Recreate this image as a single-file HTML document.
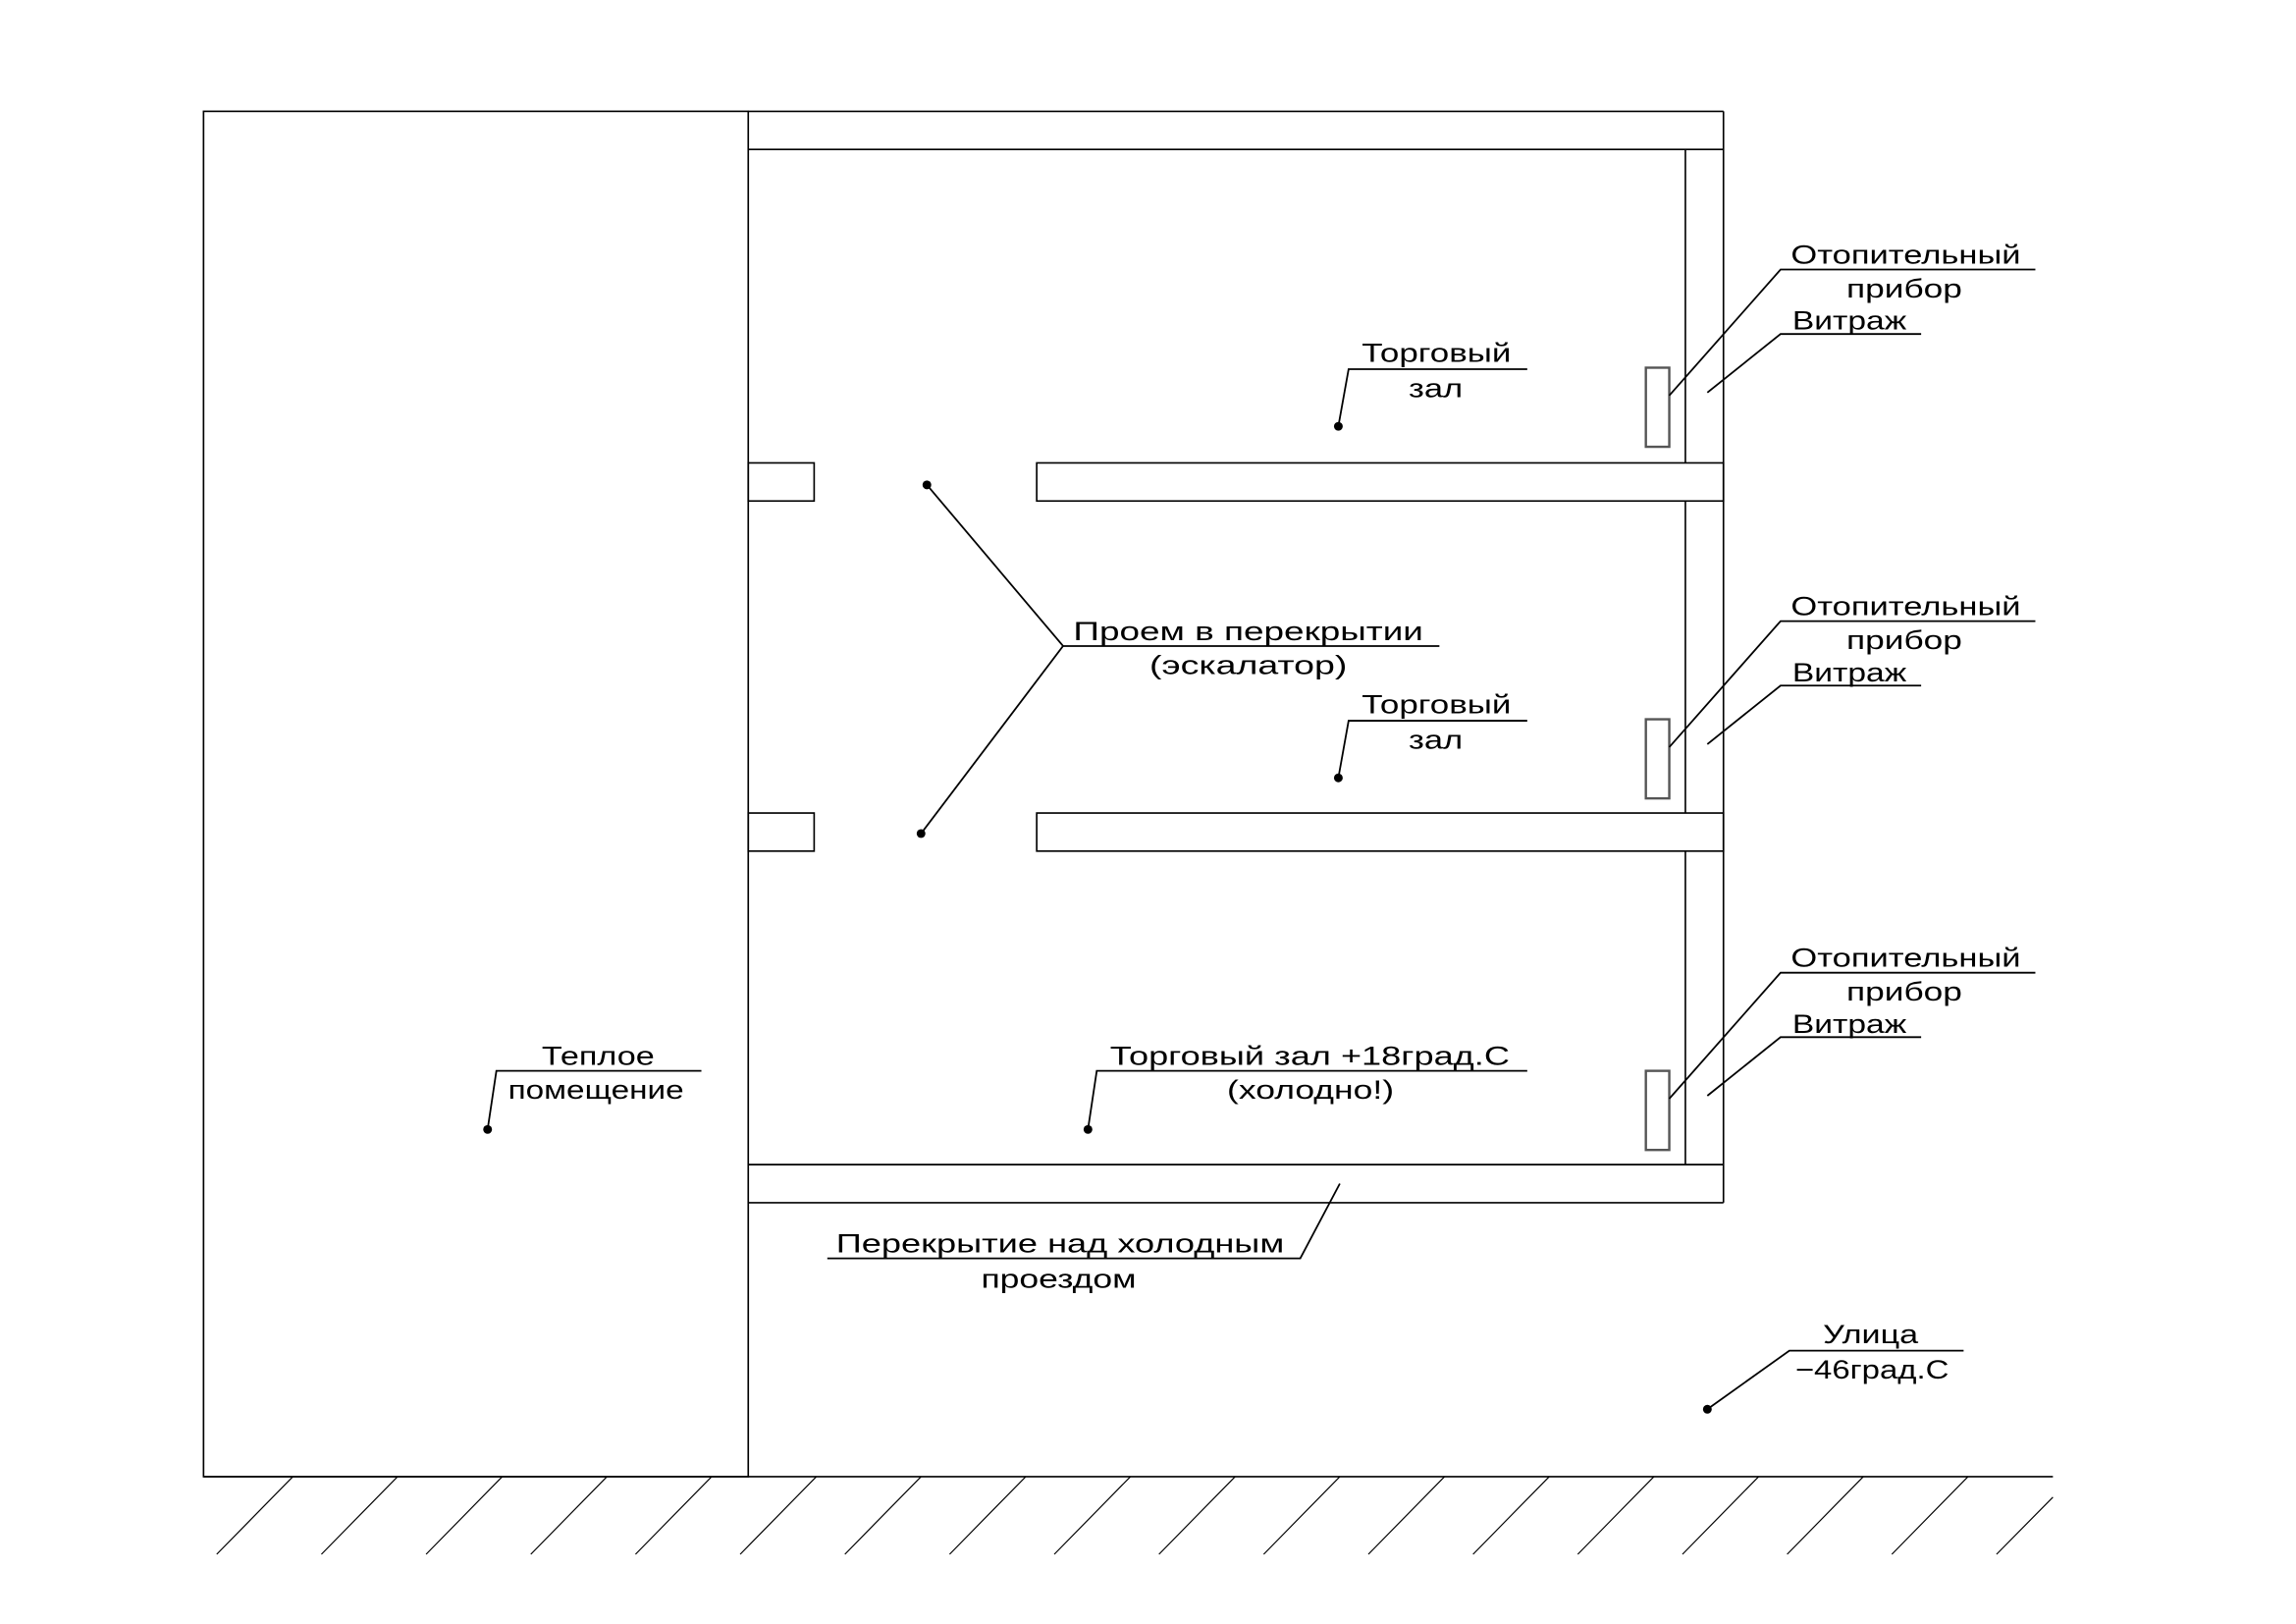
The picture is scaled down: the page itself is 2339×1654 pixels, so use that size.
<!DOCTYPE html>
<html><head><meta charset="utf-8"><style>html,body{margin:0;padding:0;background:#fff}svg{display:block}</style></head>
<body>
<svg width="2339" height="1654" viewBox="0 0 1568 1108.6" preserveAspectRatio="none" xmlns="http://www.w3.org/2000/svg">
<g fill="none" stroke="#000" stroke-width="1.1">
<rect x="139" y="76" width="372" height="932"/>
<line x1="511" y1="76" x2="1177" y2="76"/>
<line x1="511" y1="102" x2="1177" y2="102"/>
<line x1="1177" y1="76" x2="1177" y2="821"/>
<line x1="1151" y1="102" x2="1151" y2="316"/>
<line x1="1151" y1="342" x2="1151" y2="555"/>
<line x1="1151" y1="581" x2="1151" y2="795"/>
<rect x="708" y="316" width="469" height="26"/>
<rect x="708" y="555" width="469" height="26"/>
<rect x="511" y="316" width="45" height="26"/>
<rect x="511" y="555" width="45" height="26"/>
<line x1="511" y1="795" x2="1177" y2="795"/>
<line x1="511" y1="821" x2="1177" y2="821"/>
<line x1="139" y1="1008" x2="1402" y2="1008"/>
</g>
<g fill="none" stroke="#555" stroke-width="1.6">
<rect x="1124" y="251" width="16" height="54"/>
<rect x="1124" y="491" width="16" height="54"/>
<rect x="1124" y="731" width="16" height="54"/>
</g>
<g stroke="#000" stroke-width="0.8">
<line x1="148" y1="1061" x2="200" y2="1008"/>
<line x1="219.5" y1="1061" x2="271.5" y2="1008"/>
<line x1="291" y1="1061" x2="343" y2="1008"/>
<line x1="362.5" y1="1061" x2="414.5" y2="1008"/>
<line x1="434" y1="1061" x2="486" y2="1008"/>
<line x1="505.5" y1="1061" x2="557.5" y2="1008"/>
<line x1="577" y1="1061" x2="629" y2="1008"/>
<line x1="648.5" y1="1061" x2="700.5" y2="1008"/>
<line x1="720" y1="1061" x2="772" y2="1008"/>
<line x1="791.5" y1="1061" x2="843.5" y2="1008"/>
<line x1="863" y1="1061" x2="915" y2="1008"/>
<line x1="934.5" y1="1061" x2="986.5" y2="1008"/>
<line x1="1006" y1="1061" x2="1058" y2="1008"/>
<line x1="1077.5" y1="1061" x2="1129.5" y2="1008"/>
<line x1="1149" y1="1061" x2="1201" y2="1008"/>
<line x1="1220.5" y1="1061" x2="1272.5" y2="1008"/>
<line x1="1292" y1="1061" x2="1344" y2="1008"/>
<line x1="1363.5" y1="1061" x2="1402" y2="1022"/>
</g>
<g stroke="#000" stroke-width="1.2" fill="none">
<path d="M1140 270 L1216 184 H1390 M1166 268 L1216 228 H1312"/>
<path d="M1140 510 L1216 424 H1390 M1166 508 L1216 468 H1312"/>
<path d="M1140 750 L1216 664 H1390 M1166 748 L1216 708 H1312"/>
<path d="M914 291 L921 252 H1043"/>
<path d="M914 531 L921 492 H1043"/>
<path d="M633 331 L726 441 L629 569 M726 441 H983"/>
<path d="M743 771 L749 731 H1043"/>
<path d="M333 771 L339 731 H479"/>
<path d="M915 808 L888 859 H565"/>
<path d="M1166 962 L1222 922 H1341"/>
</g>
<g fill="#000">
<circle cx="914" cy="291" r="3"/><circle cx="914" cy="531" r="3"/>
<circle cx="633" cy="331" r="3"/><circle cx="629" cy="569" r="3"/>
<circle cx="743" cy="771" r="3"/><circle cx="333" cy="771" r="3"/>
<circle cx="1166" cy="962" r="3"/>
</g>
<g font-family="Liberation Sans, sans-serif" font-size="18" fill="#000">
<text x="1223" y="180" textLength="157" lengthAdjust="spacingAndGlyphs">Отопительный</text>
<text x="1261" y="203" textLength="79" lengthAdjust="spacingAndGlyphs">прибор</text>
<text x="1224" y="225" textLength="78" lengthAdjust="spacingAndGlyphs">Витраж</text>
<text x="1223" y="420" textLength="157" lengthAdjust="spacingAndGlyphs">Отопительный</text>
<text x="1261" y="443" textLength="79" lengthAdjust="spacingAndGlyphs">прибор</text>
<text x="1224" y="465" textLength="78" lengthAdjust="spacingAndGlyphs">Витраж</text>
<text x="1223" y="660" textLength="157" lengthAdjust="spacingAndGlyphs">Отопительный</text>
<text x="1261" y="683" textLength="79" lengthAdjust="spacingAndGlyphs">прибор</text>
<text x="1224" y="705" textLength="78" lengthAdjust="spacingAndGlyphs">Витраж</text>
<text x="930" y="247" textLength="102" lengthAdjust="spacingAndGlyphs">Торговый</text>
<text x="962" y="271" textLength="37" lengthAdjust="spacingAndGlyphs">зал</text>
<text x="930" y="487" textLength="102" lengthAdjust="spacingAndGlyphs">Торговый</text>
<text x="962" y="511" textLength="37" lengthAdjust="spacingAndGlyphs">зал</text>
<text x="733" y="437" textLength="239" lengthAdjust="spacingAndGlyphs">Проем в перекрытии</text>
<text x="785" y="460" textLength="135" lengthAdjust="spacingAndGlyphs">(эскалатор)</text>
<text x="758" y="727" textLength="273" lengthAdjust="spacingAndGlyphs">Торговый зал +18град.С</text>
<text x="838" y="750" textLength="114" lengthAdjust="spacingAndGlyphs">(холодно!)</text>
<text x="370" y="727" textLength="77" lengthAdjust="spacingAndGlyphs">Теплое</text>
<text x="347" y="750" textLength="120" lengthAdjust="spacingAndGlyphs">помещение</text>
<text x="571" y="855" textLength="306" lengthAdjust="spacingAndGlyphs">Перекрытие над холодным</text>
<text x="670" y="879" textLength="106" lengthAdjust="spacingAndGlyphs">проездом</text>
<text x="1245" y="917" textLength="65" lengthAdjust="spacingAndGlyphs">Улица</text>
<text x="1226" y="941" textLength="105" lengthAdjust="spacingAndGlyphs">−46град.С</text>
</g>
</svg>
</body></html>
